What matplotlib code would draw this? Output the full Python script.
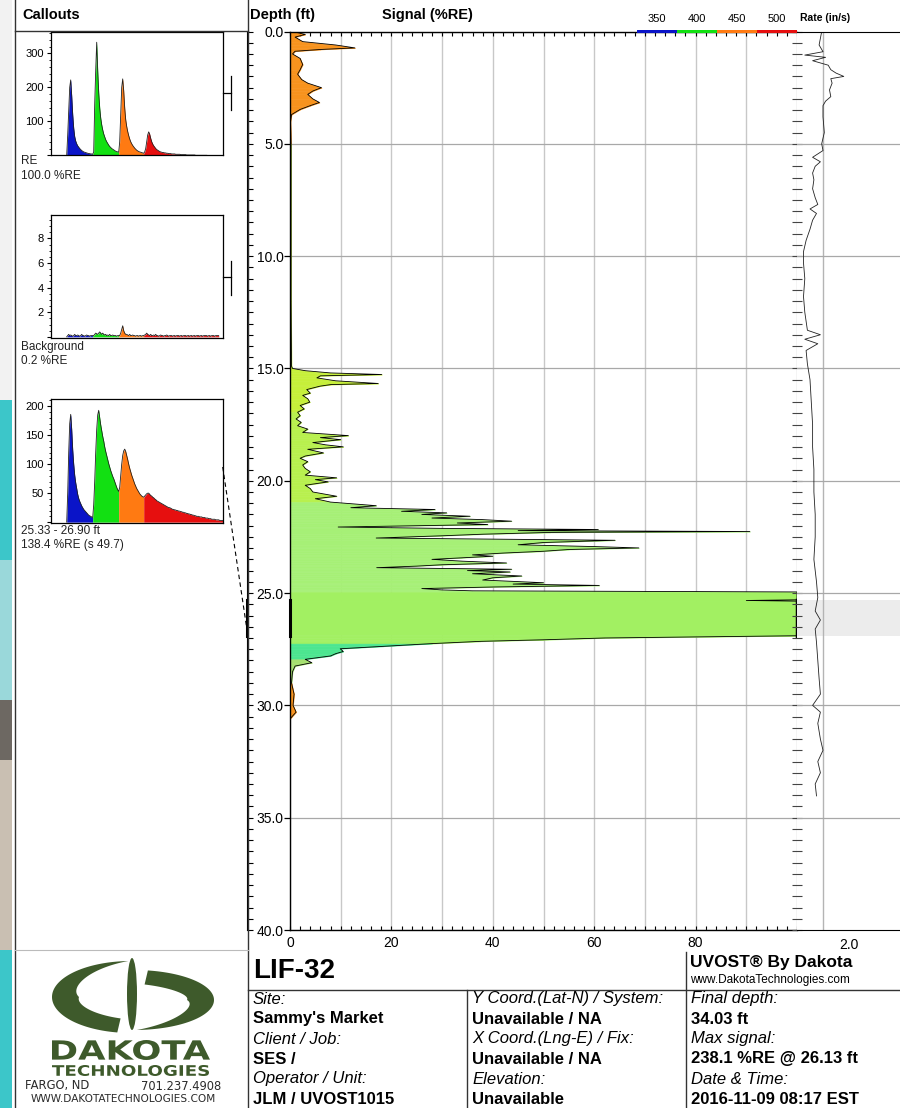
import numpy as np
import matplotlib
matplotlib.use('Agg')
from matplotlib import pyplot as plt
from matplotlib.ticker import MultipleLocator, FuncFormatter, NullLocator
from matplotlib.patches import Rectangle, Polygon, Ellipse, PathPatch
from matplotlib.textpath import TextPath
from matplotlib.font_manager import FontProperties
from matplotlib.transforms import Affine2D

plt.rcParams['font.family'] = ['Liberation Sans', 'DejaVu Sans']

# ---- signal log (depth ft, %RE as displayed, clipped at 100) ----
SIG_TOP = [(0.0, 0.5), (0.13, 3.0), (0.25, 1.0), (0.45, 2.5), (0.6, 9.0), (0.73, 12.8), (0.8, 6.0),
           (0.88, 1.0), (1.0, 0.5), (1.2, 2.0), (1.47, 2.5), (1.7, 2.0), (1.9, 1.5), (2.14, 2.3),
           (2.3, 3.5), (2.5, 6.2), (2.65, 4.5), (2.8, 3.5), (3.0, 4.5), (3.16, 5.8), (3.3, 4.0),
           (3.47, 2.0), (3.7, 0.3), (4.0, 0.1), (5.0, 0.2), (8.0, 0.2), (12.0, 0.2), (14.9, 0.3)]
SIG_MID = [(15.0, 0.5), (15.1, 3.0), (15.2, 8.0), (15.27, 18.1), (15.33, 6.0), (15.42, 5.3), (15.55, 9.0),
           (15.67, 17.4), (15.72, 8.0), (15.79, 5.9), (15.94, 3.3), (16.1, 4.0), (16.2, 2.5), (16.35, 3.5),
           (16.5, 3.9), (16.65, 2.0), (16.8, 2.8), (16.95, 1.5), (17.1, 2.0), (17.25, 1.2), (17.4, 2.2),
           (17.55, 1.5), (17.7, 3.5), (17.85, 2.5), (17.99, 11.5), (18.08, 6.0), (18.17, 10.0), (18.3, 4.5),
           (18.4, 7.0), (18.49, 10.5), (18.6, 3.5), (18.76, 6.6), (18.9, 3.0), (19.0, 2.0), (19.15, 3.5),
           (19.3, 2.5), (19.45, 3.0), (19.6, 4.0), (19.75, 3.0), (19.87, 9.2), (19.95, 5.0), (20.05, 7.5),
           (20.2, 3.0), (20.35, 4.0), (20.5, 4.5), (20.6, 7.0), (20.69, 9.2), (20.8, 5.0), (20.95, 8.0),
           (21.11, 17.0), (21.2, 12.0), (21.28, 28.6), (21.36, 22.0), (21.43, 30.9), (21.5, 26.0),
           (21.58, 35.5), (21.66, 28.0), (21.73, 38.0), (21.8, 43.7), (21.88, 33.0), (21.95, 39.0)]
SIG_SOURCE = [(22.06, 9.5), (22.12, 30.0), (22.17, 60.8), (22.22, 45.0), (22.26, 90.7), (22.3, 51.3),
              (22.38, 38.0), (22.45, 30.0), (22.55, 17.0), (22.65, 64.1), (22.75, 50.0), (22.85, 45.0),
              (22.93, 60.0), (22.99, 68.8), (23.06, 55.0), (23.14, 49.9), (23.22, 42.0), (23.3, 36.0),
              (23.36, 40.0), (23.43, 33.9), (23.5, 28.0), (23.58, 34.0), (23.66, 42.7), (23.74, 30.0),
              (23.8, 25.0), (23.87, 17.1), (23.94, 43.7), (24.0, 35.0), (24.06, 43.4), (24.14, 36.0),
              (24.24, 45.7), (24.32, 40.0), (24.42, 38.0), (24.54, 50.0), (24.6, 44.0), (24.66, 61.0),
              (24.73, 40.0), (24.8, 26.0), (24.86, 30.0), (24.9, 36.0), (24.95, 100.0), (25.3, 100.0),
              (25.33, 90.0), (25.36, 100.0), (26.85, 100.0), (26.9, 100.0), (27.0, 62.0), (27.08, 50.0),
              (27.15, 37.5), (27.25, 28.0), (27.37, 18.4), (27.48, 9.9), (27.6, 10.5), (27.7, 9.0),
              (27.8, 8.0), (27.95, 3.0), (28.1, 4.3), (28.25, 1.0)]
SIG_BASE = [(28.5, 0.5), (29.0, 0.3), (29.5, 0.8), (30.0, 0.6), (30.3, 1.2), (30.5, 0.4), (30.6, 0.0)]

# ---- push rate (depth ft, in/s) ----
RATE = [(0.0, 0.95), (0.3, 0.9), (0.6, 0.85), (0.9, 1.0), (1.05, 0.3), (1.15, 1.1), (1.3, 0.6), (1.5, 1.2),
        (1.7, 1.3), (1.85, 1.5), (2.0, 1.8), (2.1, 1.3), (2.3, 1.35), (2.6, 1.25), (2.9, 1.3), (3.1, 1.1),
        (3.3, 1.0), (3.8, 1.0), (4.5, 1.05), (5.0, 0.95), (5.3, 1.0), (5.6, 0.6), (5.8, 0.9), (6.0, 0.7),
        (6.3, 0.6), (6.6, 0.65), (7.0, 0.6), (7.4, 0.7), (7.7, 0.8), (7.9, 0.5), (8.1, 0.75), (8.4, 0.6),
        (8.8, 0.5), (9.3, 0.35), (9.8, 0.25), (10.3, 0.25), (11.0, 0.3), (11.8, 0.25), (12.5, 0.3),
        (13.3, 0.4), (13.5, 0.9), (13.7, 0.3), (13.9, 0.8), (14.2, 0.35), (14.8, 0.4), (15.5, 0.5),
        (16.5, 0.55), (17.5, 0.6), (18.5, 0.6), (19.5, 0.65), (20.5, 0.65), (21.5, 0.7), (22.5, 0.7),
        (23.5, 0.65), (24.5, 0.75), (25.2, 0.8), (25.8, 0.7), (26.2, 0.9), (26.6, 0.7), (27.2, 0.75),
        (28.0, 0.8), (28.8, 0.85), (29.5, 0.9), (30.0, 0.6), (30.3, 0.9), (30.8, 0.8), (31.5, 0.9),
        (32.0, 1.0), (32.5, 0.8), (33.0, 0.9), (33.5, 0.7), (34.03, 0.75)]

CALLOUT_RANGE = (25.33, 26.90)

# ---- waveform callouts: channel start sample, then samples per channel ----
CH_START = [16, 42, 68, 93]
CH_NAMES = ['350', '400', '450', '500']

C1_BLUE = [0, 60, 130, 200, 222, 175, 120, 80, 55, 42, 34, 28, 24, 20, 17, 14, 12, 10, 9, 8, 7, 6, 5, 5, 4, 4, 3]
C1_GREEN = [3, 10, 150, 250, 333, 250, 185, 140, 110, 90, 75, 63, 54, 46, 40, 35, 30, 26, 23, 20, 18, 16, 14,
            12, 11, 10, 9]
C1_ORANGE = [9, 40, 120, 200, 225, 190, 140, 105, 85, 70, 58, 48, 40, 34, 29, 25, 21, 18, 15, 13, 11, 10, 9,
             8, 7, 6]
C1_RED = [6, 10, 20, 40, 60, 69, 62, 50, 40, 33, 28, 24, 20, 17, 15, 13, 11, 10, 9, 8, 8, 7, 7, 6, 6, 5, 5, 5,
          4, 4, 4, 4, 3, 3, 3, 3, 3, 2, 2, 2, 2, 2, 2, 1, 1, 1, 1, 1, 1, 1, 1, 1, 0, 0, 0, 0, 0, 0, 0, 0, 0, 0, 0, 0]

C2_BLUE = [0.0, 0.1, 0.2, 0.1, 0.15, 0.1, 0.05, 0.1, 0.2, 0.1, 0.1, 0.15, 0.1, 0.05, 0.1, 0.2, 0.1, 0.1, 0.05,
           0.1, 0.15, 0.1, 0.1, 0.05, 0.1, 0.1, 0.1]
C2_GREEN = [0.1, 0.1, 0.2, 0.3, 0.25, 0.2, 0.3, 0.4, 0.3, 0.2, 0.3, 0.2, 0.15, 0.2, 0.1, 0.15, 0.1, 0.2, 0.1,
            0.1, 0.15, 0.1, 0.1, 0.1, 0.05, 0.1, 0.1]
C2_ORANGE = [0.1, 0.1, 0.3, 0.6, 0.9, 0.5, 0.3, 0.2, 0.2, 0.15, 0.1, 0.2, 0.1, 0.1, 0.15, 0.1, 0.1, 0.05, 0.1,
             0.1, 0.05, 0.1, 0.1, 0.05, 0.1, 0.1]
C2_RED = [0.1, 0.15, 0.2, 0.3, 0.2, 0.15, 0.1, 0.2, 0.1, 0.1, 0.15, 0.1, 0.2, 0.1, 0.1, 0.05, 0.1, 0.15, 0.1,
          0.1, 0.05, 0.1, 0.1, 0.15, 0.1, 0.05, 0.1, 0.1, 0.1, 0.05, 0.1, 0.1, 0.05, 0.1, 0.1, 0.1, 0.05, 0.1,
          0.1, 0.05, 0.1, 0.1, 0.1, 0.05, 0.1, 0.1, 0.05, 0.1, 0.1, 0.05, 0.1, 0.1, 0.05, 0.1, 0.1, 0.1, 0.05,
          0.1, 0.1, 0.05, 0.1, 0.1, 0.1, 0.1, 0.05, 0.1, 0.1, 0.05, 0.1, 0.1, 0.1, 0.05, 0.1, 0.1, 0.1, 0.1]

C3_BLUE = [0, 50, 120, 170, 186, 160, 125, 100, 81, 68, 58, 48, 41, 36, 32, 28, 25, 22, 20, 18, 16, 14, 12,
           11, 10, 9, 8]
C3_GREEN = [8, 30, 70, 120, 160, 185, 193, 180, 168, 158, 148, 140, 130, 122, 115, 108, 101, 95, 89, 84, 79,
            75, 70, 65, 60, 56, 53]
C3_ORANGE = [53, 60, 80, 100, 115, 123, 126, 122, 115, 108, 100, 93, 87, 81, 76, 71, 66, 62, 58, 55, 52, 49,
             47, 45, 44, 43]
C3_RED = [43, 45, 47, 49, 50, 50, 48, 46, 45, 43, 42, 40, 39, 37, 36, 35, 34, 33, 32, 31, 30, 29, 28, 27, 26,
          25, 25, 24, 23, 22, 22, 21, 21, 20, 20, 19, 19, 18, 18, 17, 17, 16, 16, 15, 15, 14, 14, 13, 13, 12,
          12, 11, 11, 10, 10, 10, 9, 9, 9, 8, 8, 8, 7, 7, 7, 6, 6, 6, 5, 5, 5, 5, 4, 4, 4, 4, 3, 3, 3, 3]

CH_COLORS = ['#0a14c8', '#12e012', '#ff7a12', '#e60f0f']

W, H = 900, 1108
fig = plt.figure(figsize=(W / 100, H / 100), dpi=100)


def box(x0, y0, x1, y1):
    return [x0 / W, 1 - y1 / H, (x1 - x0) / W, (y1 - y0) / H]


def shade(d):
    if d < 5 or d > 29.2:
        return '#f7931e'
    if d < 17:
        return '#c6ef3a'
    if d < 21:
        return '#b8f04e'
    if d < 25:
        return '#a6f076'
    if d < 27.3:
        return '#a2f062'
    if d < 28.0:
        return '#4ce690'
    return '#a6e070'


# ---------------- main signal track ----------------
ax = fig.add_axes(box(290, 31.5, 797, 930))
ax.set_xlim(0, 100)
ax.set_ylim(40, 0)
ax.set_axisbelow(True)

profile = SIG_TOP + SIG_MID + SIG_SOURCE + SIG_BASE
dep = [p[0] for p in profile]
sig = [p[1] for p in profile]
for i in range(len(dep) - 1):
    c = shade((dep[i] + dep[i + 1]) / 2)
    ax.fill_betweenx([dep[i], dep[i + 1]], 0, [sig[i], sig[i + 1]], facecolor=c, edgecolor=c, lw=0.4)
ax.plot(sig, dep, color='black', lw=0.6)

ax.xaxis.set_major_locator(MultipleLocator(10))
ax.xaxis.set_minor_locator(MultipleLocator(2))
ax.xaxis.set_major_formatter(FuncFormatter(lambda v, p: f'{v:.0f}' if v % 20 == 0 and v <= 80 else ''))
ax.yaxis.set_major_locator(MultipleLocator(5))
ax.yaxis.set_major_formatter(FuncFormatter(lambda v, p: f'{v:.1f}'))
ax.grid(axis='x', color='#c8c8c8', lw=1)
ax.grid(axis='y', color='#a8a8a8', lw=0.9)
ax.tick_params(axis='x', which='both', direction='in', top=True, bottom=True, length=3, width=0.8,
               labelsize=10, pad=4)
ax.tick_params(axis='y', which='major', direction='out', length=4, width=0.9, labelsize=10, pad=0.5)
ax.spines['right'].set_visible(False)
for s in ['left', 'top', 'bottom']:
    ax.spines[s].set_linewidth(1)
ax.plot([100, 100], CALLOUT_RANGE, color='black', lw=2.5, clip_on=False, zorder=5)
ax.plot([0, 0], CALLOUT_RANGE, color='black', lw=2.2, clip_on=False, zorder=5)

# depth ruler
rax = fig.add_axes(box(247, 31.5, 290, 930))
rax.set_xlim(0, 1)
rax.set_ylim(40, 0)
rax.patch.set_visible(False)
for s in ['right', 'top', 'bottom']:
    rax.spines[s].set_visible(False)
rax.set_xticks([])
rax.yaxis.set_major_locator(MultipleLocator(5))
rax.yaxis.set_minor_locator(MultipleLocator(0.5))
rax.tick_params(axis='y', which='both', direction='in', length=4.5, width=0.8, labelleft=False)
rax.plot([0, 0], CALLOUT_RANGE, color='black', lw=2.2, clip_on=False)

# ---------------- rate track ----------------
rte = fig.add_axes(box(797, 31.5, 900, 930))
rte.set_xlim(0, 103 / 26)
rte.set_ylim(40, 0)
rte.axhspan(*CALLOUT_RANGE, color='#ececec', lw=0)
rte.axvline(1.0, color='#b4b4b4', lw=1)
for d in range(5, 40, 5):
    rte.axhline(d, color='#a8a8a8', lw=0.9)
rte.plot([r[1] for r in RATE], [r[0] for r in RATE], color='#222222', lw=0.6)
rte.spines['left'].set_visible(False)
rte.spines['right'].set_visible(False)
rte.set_xticks([2.0])
rte.xaxis.set_major_formatter(FuncFormatter(lambda v, p: f'{v:.1f}'))
rte.xaxis.set_minor_locator(NullLocator())
rte.tick_params(axis='x', length=0, labelsize=10, pad=6)
for lab in rte.get_xticklabels():
    lab.set_x(lab.get_position()[0])
rte.yaxis.set_major_locator(MultipleLocator(5))
rte.yaxis.set_minor_locator(MultipleLocator(0.5))
rte.tick_params(axis='y', which='both', direction='inout', length=7, width=0.8, color='#444444',
                labelleft=False)


# ---------------- callouts ----------------
def callout(rect, chans, ylim, major, minor):
    a = fig.add_axes(box(*rect))
    xs_all, ys_all = [], []
    for start, vals, col in zip(CH_START, chans, CH_COLORS):
        xs = np.arange(start, start + len(vals))
        a.fill_between(xs, 0, vals, color=col, lw=0)
        xs_all += list(xs)
        ys_all += list(vals)
    a.plot(xs_all, ys_all, color='#202020', lw=0.6)
    a.set_xlim(0, 172)
    a.set_ylim(*ylim)
    a.set_xticks([])
    a.yaxis.set_major_locator(MultipleLocator(major))
    a.yaxis.set_minor_locator(MultipleLocator(minor))
    a.yaxis.set_major_formatter(FuncFormatter(lambda v, p: '' if v <= 0 else f'{v:g}'))
    a.tick_params(axis='y', which='major', direction='out', length=3, width=0.8, labelsize=8, pad=2)
    a.tick_params(axis='y', which='minor', direction='out', length=1.5, width=0.6)
    for s in a.spines.values():
        s.set_linewidth(0.9)
    return a


callout((50.7, 31.7, 222.7, 155.3), [C1_BLUE, C1_GREEN, C1_ORANGE, C1_RED], (0, 364), 100, 20)
callout((50.7, 215, 222.7, 338.3), [C2_BLUE, C2_GREEN, C2_ORANGE, C2_RED], (-0.12, 9.9), 2, 0.5)
callout((50.7, 399.3, 222.7, 523.3), [C3_BLUE, C3_GREEN, C3_ORANGE, C3_RED], (-2, 212), 50, 10)

# ---------------- overlay: frames, headers, info block, logo ----------------
ov = fig.add_axes([0, 0, 1, 1], zorder=10)
ov.set_xlim(0, W)
ov.set_ylim(H, 0)
ov.axis('off')
ov.patch.set_visible(False)

# photo strip at the far left
for y0, y1, c in [(0, 400, '#f2f2f2'), (400, 560, '#3cc6c9'), (560, 700, '#9ad8da'),
                  (700, 760, '#6d6862'), (760, 950, '#c9bfb2'), (950, 1108, '#3cc6c9')]:
    ov.add_patch(Rectangle((0, y0), 12, y1 - y0, color=c, lw=0))

line = dict(color='#333333', lw=1)
ov.plot([15, 15], [0, H], **line)
ov.plot([247.5, 247.5], [0, H], **line)
ov.plot([15, 247.5], [31, 31], **line)
ov.plot([15, 247.5], [950, 950], color='#bbbbbb', lw=0.8)
ov.plot([686, 686], [952, H], **line)
ov.plot([247.5, W], [990, 990], **line)
ov.plot([467, 467], [990, H], **line)

# callout scale markers and connector
for yc, y0, y1 in [(93, 76, 110), (277, 261, 295)]:
    ov.plot([222.7, 231], [yc, yc], color='black', lw=0.9)
    ov.plot([231, 231], [y0, y1], color='black', lw=0.9)
ov.plot([222.7, 247], [467, 630], color='black', lw=0.8, ls=(0, (4, 3)))

# headers
ov.text(22, 15, 'Callouts', fontsize=10.5, fontweight='bold', va='center')
ov.text(250, 15, 'Depth (ft)', fontsize=10.5, fontweight='bold', va='center')
ov.text(427, 15, 'Signal (%RE)', fontsize=10.5, fontweight='bold', va='center', ha='center')
for k, (name, col) in enumerate(zip(CH_NAMES, CH_COLORS)):
    x0 = 637 + 40 * k
    ov.add_patch(Rectangle((x0, 29.5), 40, 3.5, color=col, lw=0))
    ov.text(x0 + 20, 19, name, fontsize=8, ha='center', va='center')
ov.text(800, 18, 'Rate (in/s)', fontsize=7.5, fontweight='bold', va='center')

# callout captions
cap = dict(fontsize=8.5, va='center', color='#222222')
ov.text(21, 161, 'RE', **cap)
ov.text(21, 176, '100.0 %RE', **cap)
ov.text(21, 347, 'Background', **cap)
ov.text(21, 361, '0.2 %RE', **cap)
ov.text(21, 531, '25.33 - 26.90 ft', **cap)
ov.text(21, 545, '138.4 %RE (s 49.7)', **cap)

# info block
ov.text(253, 971, 'LIF-32', fontsize=20, fontweight='bold', va='center')
ov.text(690, 962, 'UVOST® By Dakota', fontsize=12.5, fontweight='bold', va='center')
ov.text(690, 980, 'www.DakotaTechnologies.com', fontsize=8.5, va='center')
rows = [
    (253, [('Site:', 'Sammy\'s Market'), ('Client / Job:', 'SES /'), ('Operator / Unit:', 'JLM / UVOST1015')]),
    (472, [('Y Coord.(Lat-N) / System:', 'Unavailable / NA'), ('X Coord.(Lng-E) / Fix:', 'Unavailable / NA'),
           ('Elevation:', 'Unavailable')]),
    (691, [('Final depth:', '34.03 ft'), ('Max signal:', '238.1 %RE @ 26.13 ft'),
           ('Date & Time:', '2016-11-09 08:17 EST')]),
]
for x, pairs in rows:
    for k, (lab, val) in enumerate(pairs):
        y = 999 + 40 * k
        ov.text(x, y, lab, fontsize=12, fontstyle='italic', va='center')
        ov.text(x, y + 20, val, fontsize=12, fontweight='bold', va='center')

# logo
LOGO = '#3e5a2b'


def swoosh(cx, cy, a, b, flip):
    t = np.linspace(100, 268, 90)
    th = np.interp(t, [100, 180, 268], [19, 27, 0])
    tr = np.radians(t)
    outer = np.c_[cx + a * np.cos(tr), cy + b * np.sin(tr)]
    inner = np.c_[cx + (a - th) * np.cos(tr), cy + (b - 0.75 * th) * np.sin(tr)][::-1]
    pts = np.vstack([outer, inner])
    if flip:
        pts = np.c_[2 * cx - pts[:, 0], 2 * cy - pts[:, 1]]
    ov.add_patch(Polygon(pts, closed=True, color=LOGO, lw=0))


swoosh(131, 997, 79, 36, False)
swoosh(134, 1000, 80, 30, True)
ov.add_patch(Ellipse((132, 994), 10, 72, color=LOGO, lw=0))


def stretched(s, x0, x1, yc, capph, color):
    fp = FontProperties(family='DejaVu Sans', weight='bold')
    tp = TextPath((0, 0), s, size=100, prop=fp)
    bb = tp.get_extents()
    tr = Affine2D().translate(-bb.x0, -bb.y0).scale((x1 - x0) / bb.width, -capph / bb.height)
    tr = tr.translate(x0, yc + capph / 2)
    ov.add_patch(PathPatch(tr.transform_path(tp), color=color, lw=0))


stretched('DAKOTA', 52, 210, 1050, 20, LOGO)
stretched('TECHNOLOGIES', 52, 209, 1070.5, 11, LOGO)
small = dict(family='DejaVu Sans', va='center', color='#2a2a2a')
ov.text(25, 1086, 'FARGO, ND', fontsize=8.3, **small)
ov.text(221, 1086, '701.237.4908', fontsize=8.3, ha='right', **small)
ov.text(123, 1099, 'WWW.DAKOTATECHNOLOGIES.COM', fontsize=7.6, ha='center', **small)

fig.savefig('out.png', dpi=100)
